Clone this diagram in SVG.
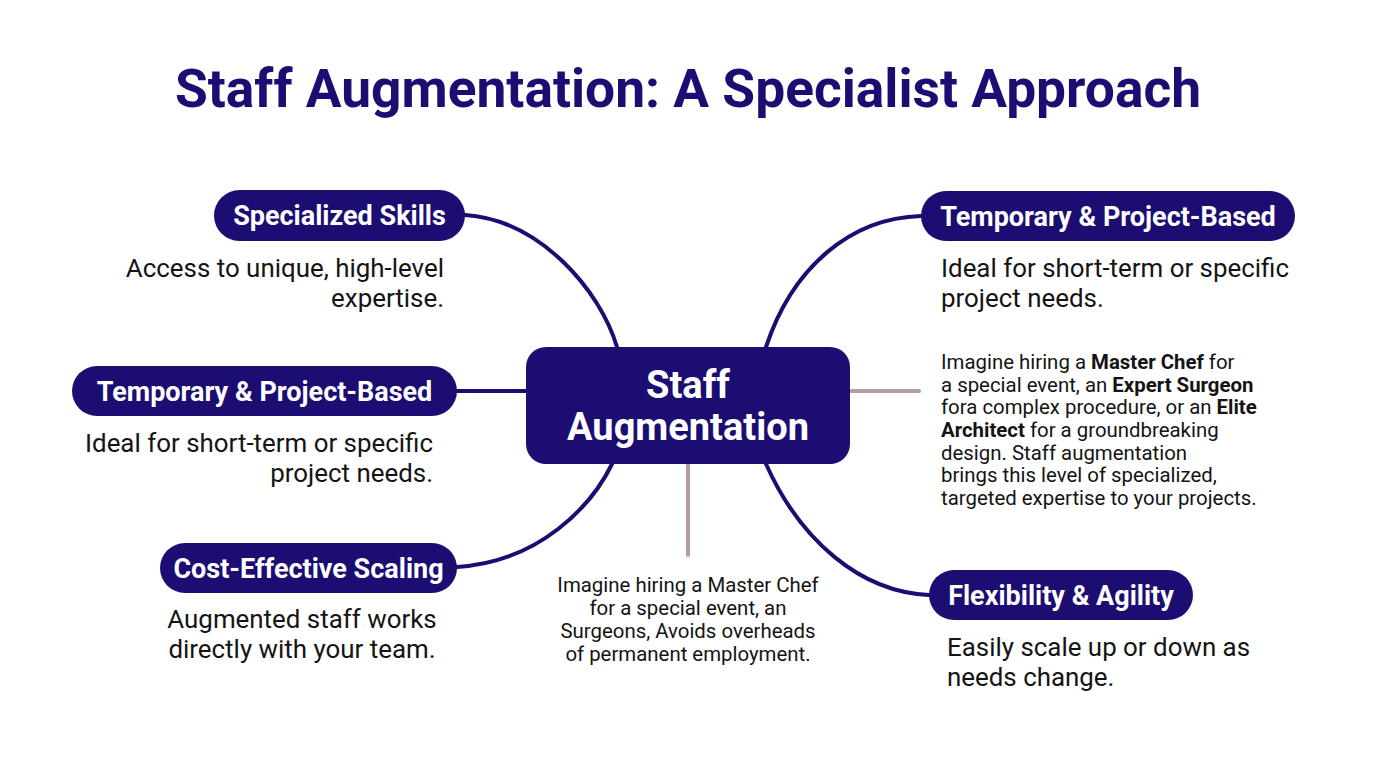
<svg xmlns="http://www.w3.org/2000/svg" width="1376" height="768" viewBox="0 0 1376 768">
<style>
.title{font-family:Roboto,"Liberation Sans",sans-serif;font-weight:700;font-size:53.3px;fill:#1c0d72}
.pill{fill:#1c0d72}
.pt{font-family:Roboto,"Liberation Sans",sans-serif;font-weight:700;font-size:27px;fill:#ffffff}
.ct{font-family:Roboto,"Liberation Sans",sans-serif;font-weight:700;font-size:38px;fill:#ffffff}
.desc{font-family:Roboto,"Liberation Sans",sans-serif;font-size:25.9px;fill:#141414}
.note{font-family:Roboto,"Liberation Sans",sans-serif;font-size:20.4px;fill:#141414}
.b{font-weight:700}
.conn{fill:none;stroke:#1c0d72;stroke-width:4;stroke-linecap:round}
.gray{fill:none;stroke:#b39ca3;stroke-width:4;stroke-linecap:round}
</style>
<rect width="1376" height="768" fill="#ffffff"/>
<text id="title" class="title" x="688" y="107" text-anchor="middle">Staff Augmentation: A Specialist Approach</text>

<g id="connectors">
<path class="conn" d="M465,215 C540,220 600,290 617,347"/>
<path class="conn" d="M457,391 L526,391"/>
<path class="conn" d="M457,567 C540,562 592,505 612,464"/>
<path class="conn" d="M766,347 C792,268 850,218 921,216"/>
<path class="conn" d="M766,464 C800,540 860,592 929,595"/>
<path class="gray" d="M850,391 L919,391"/>
<path class="gray" d="M688,464 L688,555"/>
</g>

<g id="center">
<rect x="526" y="347" width="324" height="117" rx="20" class="pill"/>
<text class="ct" x="688" y="398" text-anchor="middle">Staff</text>
<text class="ct" x="688" y="440" text-anchor="middle">Augmentation</text>
</g>

<g id="specialized-skills">
<rect x="214" y="190" width="251" height="51" rx="25.5" class="pill"/>
<text class="pt" x="339.5" y="225" text-anchor="middle">Specialized Skills</text>
<text class="desc" x="444" y="277" text-anchor="end">Access to unique, high-level</text>
<text class="desc" x="444" y="307" text-anchor="end">expertise.</text>
</g>

<g id="temporary-left">
<rect x="72" y="366" width="385" height="50" rx="25" class="pill"/>
<text class="pt" x="264.5" y="400.5" text-anchor="middle">Temporary &amp; Project-Based</text>
<text class="desc" x="433" y="452" text-anchor="end">Ideal for short-term or specific</text>
<text class="desc" x="433" y="482" text-anchor="end">project needs.</text>
</g>

<g id="cost-effective">
<rect x="160" y="543" width="297" height="50" rx="25" class="pill"/>
<text class="pt" x="308.5" y="577.5" text-anchor="middle">Cost-Effective Scaling</text>
<text class="desc" x="302" y="628" text-anchor="middle">Augmented staff works</text>
<text class="desc" x="302" y="658" text-anchor="middle">directly with your team.</text>
</g>

<g id="temporary-right">
<rect x="921" y="191" width="374" height="50" rx="25" class="pill"/>
<text class="pt" x="1108" y="225.5" text-anchor="middle">Temporary &amp; Project-Based</text>
<text class="desc" x="941" y="277">Ideal for short-term or specific</text>
<text class="desc" x="941" y="307">project needs.</text>
</g>

<g id="flexibility">
<rect x="929" y="570" width="264" height="50" rx="25" class="pill"/>
<text class="pt" x="1061" y="604.5" text-anchor="middle">Flexibility &amp; Agility</text>
<text class="desc" x="947" y="656">Easily scale up or down as</text>
<text class="desc" x="947" y="686">needs change.</text>
</g>

<g id="note-right">
<text class="note" x="941" y="369">Imagine hiring a <tspan class="b">Master Chef</tspan> for</text>
<text class="note" x="941" y="392">a special event, an <tspan class="b">Expert Surgeon</tspan></text>
<text class="note" x="941" y="414">fora complex procedure, or an <tspan class="b">Elite</tspan></text>
<text class="note" x="941" y="437"><tspan class="b">Architect</tspan> for a groundbreaking</text>
<text class="note" x="941" y="460">design. Staff augmentation</text>
<text class="note" x="941" y="482">brings this level of specialized,</text>
<text class="note" x="941" y="505">targeted expertise to your projects.</text>
</g>

<g id="note-bottom">
<text class="note" x="688" y="592" text-anchor="middle">Imagine hiring a Master Chef</text>
<text class="note" x="688" y="615" text-anchor="middle">for a special event, an</text>
<text class="note" x="688" y="638" text-anchor="middle">Surgeons, Avoids overheads</text>
<text class="note" x="688" y="661" text-anchor="middle">of permanent employment.</text>
</g>
</svg>
